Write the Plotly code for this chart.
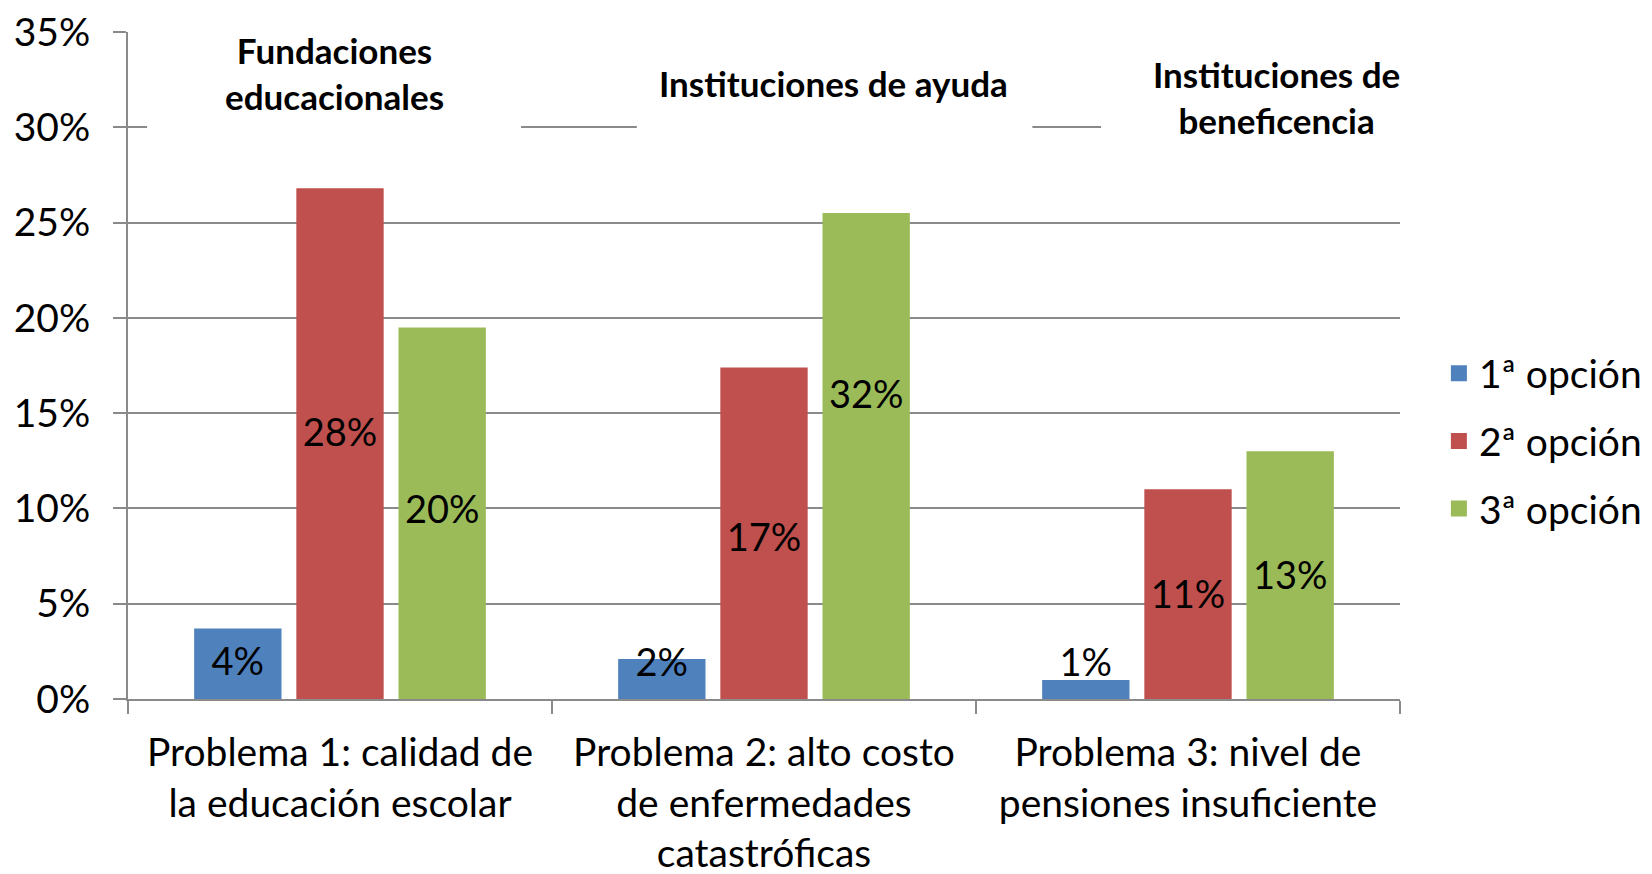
import plotly.graph_objects as go

categorias = [
    "Problema 1: calidad de<br>la educación escolar",
    "Problema 2: alto costo<br>de enfermedades<br>catastróficas",
    "Problema 3: nivel de<br>pensiones insuficiente",
]
series = ["1ª opción", "2ª opción", "3ª opción"]

# bar heights as drawn (percent)
opcion_1 = [3.7, 2.1, 1.0]
opcion_2 = [26.8, 17.4, 11.0]
opcion_3 = [19.5, 25.5, 13.0]

# data labels as printed on the chart (percent)
etiqueta_1 = [4, 2, 1]
etiqueta_2 = [28, 17, 11]
etiqueta_3 = [20, 32, 13]

colores = ["#4F81BD", "#C0504D", "#9BBB59"]
grid = "#8A8A8A"
fuente = "Lato"

valores = [opcion_1, opcion_2, opcion_3]
etiquetas = [etiqueta_1, etiqueta_2, etiqueta_3]

slot = 0.241
ancho = 0.206

fig = go.Figure()
for j, (nombre, vals, labs) in enumerate(zip(series, valores, etiquetas)):
    xs = [i + (j - 1) * slot for i in range(len(categorias))]
    fig.add_trace(go.Bar(
        x=xs, y=vals, width=ancho, name=nombre, showlegend=False,
        marker=dict(color=colores[j], line=dict(width=0)),
    ))
    # labels sit at the middle of the labelled value, never below the axis
    fig.add_trace(go.Scatter(
        x=xs, y=[max(v / 2, 1.94) - 0.25 for v in labs],
        mode="text", text=[f"{v}%" for v in labs],
        textfont=dict(family=fuente, size=38, color="black"),
        showlegend=False, hoverinfo="skip",
    ))
    # legend entry (square swatch)
    fig.add_trace(go.Scatter(
        x=[None], y=[None], mode="markers", name=nombre,
        legendgroup=nombre,
        marker=dict(symbol="square", size=16, color=colores[j]),
    ))

# group headers: white boxes that hide the gridlines, then the text
cabeceras = [
    ("<b>Fundaciones<br>educacionales</b>", 0.162, 0.939, (0.015, 0.309, 0.85, 1.03)),
    ("<b>Instituciones de ayuda</b>", 0.555, 0.924, (0.400, 0.711, 0.853, 0.988)),
    ("<b>Instituciones de<br>beneficencia</b>", 0.903, 0.902, (0.765, 1.02, 0.81, 0.986)),
]
for texto, xp, yp, (x0, x1, y0, y1) in cabeceras:
    fig.add_shape(
        type="rect", xref="paper", yref="paper",
        x0=x0, x1=x1, y0=y0, y1=y1,
        fillcolor="white", line=dict(width=0), layer="above",
    )
    fig.add_annotation(
        text=texto, xref="paper", yref="paper", x=xp, y=yp,
        xanchor="center", yanchor="middle",
        showarrow=False,
        font=dict(family=fuente, size=35, color="black"),
    )

fig.update_layout(
    width=1652, height=874,
    margin=dict(l=128, r=252, t=32, b=175),
    plot_bgcolor="white", paper_bgcolor="white",
    barmode="overlay",
    font=dict(family=fuente, size=39, color="black"),
    showlegend=True,
    legend=dict(
        xref="container", yref="container", x=0.871, y=0.495,
        xanchor="left", yanchor="middle",
        font=dict(family=fuente, size=39), tracegroupgap=14,
        itemwidth=30,
    ),
    xaxis=dict(
        range=[-0.5, 2.5], tickvals=[0, 1, 2], ticktext=categorias,
        ticks="", showgrid=False, zeroline=False, automargin=False,
        showline=True, linecolor=grid, linewidth=2,
        ticklabelstandoff=18,
        minor=dict(tick0=-0.5, dtick=1, ticks="outside", ticklen=13,
                   tickcolor=grid, tickwidth=2, showgrid=False),
    ),
    yaxis=dict(
        range=[0, 35], dtick=5, ticksuffix="%", automargin=False,
        showgrid=True, gridcolor=grid, gridwidth=2, zeroline=False,
        showline=True, linecolor=grid, linewidth=2,
        ticks="outside", ticklen=13, tickcolor=grid, tickwidth=2,
        ticklabelstandoff=15, ticklabeloverflow="allow",
    ),
)

fig.write_html(
    "out.html",
    config={"displayModeBar": False},
    post_script="document.body.style.margin='0';",
)
